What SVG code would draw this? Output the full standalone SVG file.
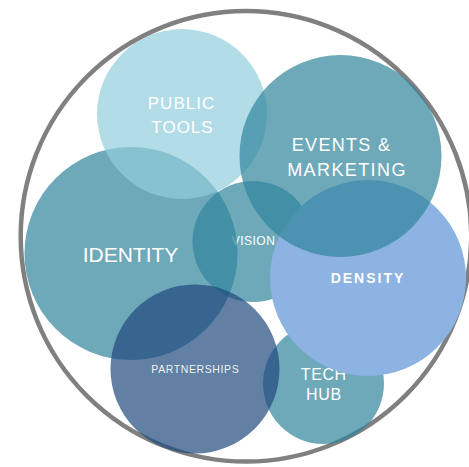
<svg xmlns="http://www.w3.org/2000/svg" width="469" height="467" viewBox="0 0 469 467">
<style>
.teal{fill:#31859C;fill-opacity:0.7}
.light{fill:#92CDDC;fill-opacity:0.7}
.navy{fill:#1F497D;fill-opacity:0.7}
.dens{fill:#8DB3E2}
text{font-family:"Liberation Sans",Arial,sans-serif;fill:#ffffff;text-anchor:middle}
</style>
<rect width="469" height="467" fill="#ffffff"/>
<circle id="frame" cx="246" cy="236.3" r="225.3" fill="none" stroke="#808080" stroke-width="4.5"/>
<g id="connectors"></g>
<g id="vision">
<circle class="teal" cx="253" cy="241.5" r="60.5"/>
<text x="253.5" y="245" font-size="12" letter-spacing="0.5">VISION</text>
</g>
<g id="identity">
<circle class="teal" cx="131" cy="253.5" r="106.5"/>
<text x="130.5" y="262" font-size="21">IDENTITY</text>
</g>
<g id="public-tools">
<circle class="light" cx="182" cy="114" r="85"/>
<text x="181.5" y="109.3" font-size="17" letter-spacing="1">PUBLIC</text>
<text x="182.5" y="133.3" font-size="17" letter-spacing="1">TOOLS</text>
</g>
<g id="tech-hub">
<circle class="teal" cx="323.5" cy="383.5" r="60.5"/>
<text x="323.8" y="379.5" font-size="16" letter-spacing="0.6">TECH</text>
<text x="324" y="400" font-size="16" letter-spacing="0.8">HUB</text>
</g>
<g id="density">
<circle class="dens" cx="368" cy="278" r="98"/>
<text x="368" y="282.7" font-size="14" font-weight="bold" letter-spacing="2">DENSITY</text>
</g>
<g id="events-marketing">
<circle class="teal" cx="340.5" cy="156" r="101"/>
<text x="341.5" y="151" font-size="18" letter-spacing="1.3">EVENTS &amp;</text>
<text x="347" y="175.7" font-size="18" letter-spacing="1.4">MARKETING</text>
</g>
<g id="partnerships">
<circle class="navy" cx="195" cy="369" r="84.5"/>
<text x="195.3" y="372.7" font-size="10.5" letter-spacing="0.6" fill-opacity="0.9">PARTNERSHIPS</text>
</g>
</svg>
